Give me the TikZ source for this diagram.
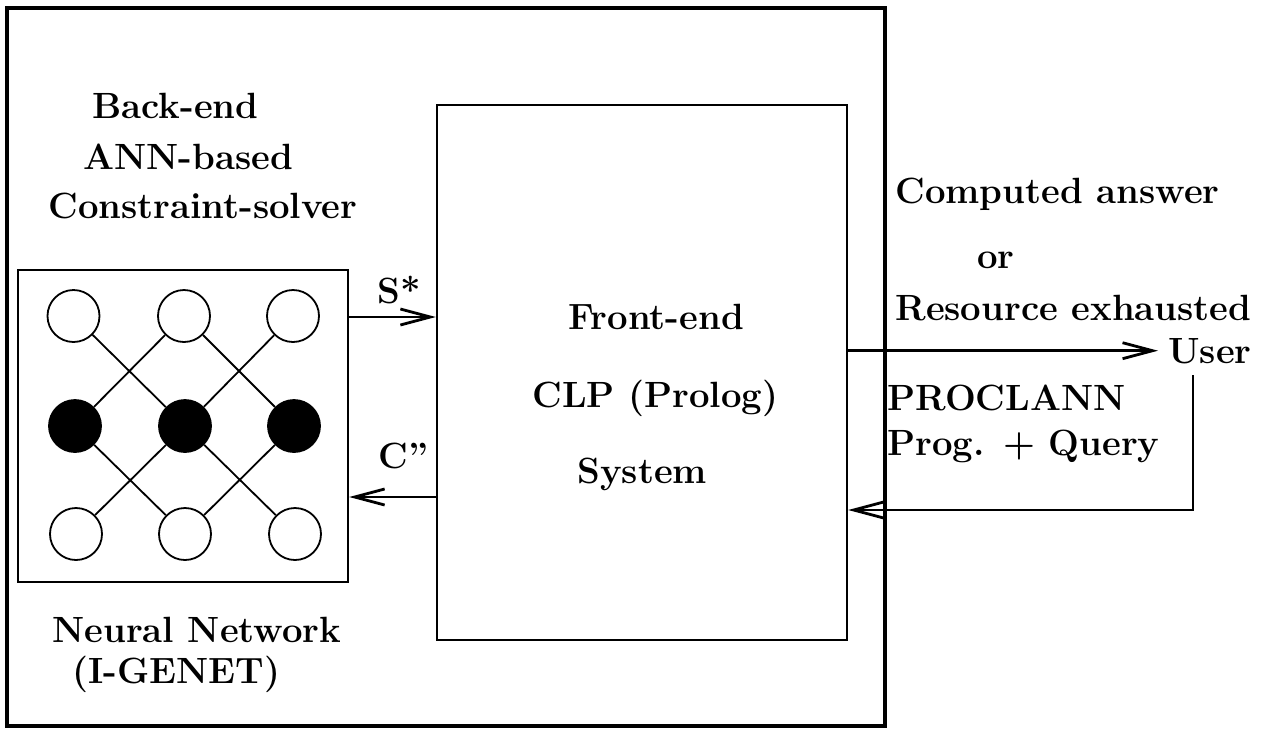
\documentclass[tikz,border=0pt]{standalone}
\usetikzlibrary{arrows.meta}
\begin{document}
\begin{tikzpicture}[x=0.5pt,y=-0.5pt,
  every node/.style={font=\fontsize{18.25pt}{22pt}\selectfont\bfseries, inner sep=0pt},
  lbl/.style={anchor=base west},
  outerbox/.style={draw, line width=1.6pt},
  blockbox/.style={draw, line width=1.2pt, rectangle},
  neuron/.style={circle, draw, line width=0.9pt, minimum size=26pt, inner sep=0pt},
  hidden/.style={neuron, fill=black},
  link/.style={line width=0.9pt},
  arr/.style={line width=1.4pt, -{Straight Barb[length=15pt,width=8pt,line width=1.4pt]}},
]
\useasboundingbox (0,0) rectangle (1265,729);
\draw[outerbox] (7,8) rectangle (885,726);

\node[blockbox, minimum width=205pt, minimum height=267.5pt] (fe) at (642,372.5) {};
\node[blockbox, minimum width=165pt, minimum height=156pt] (nn) at (183,426) {};

\node[neuron] (t1) at (73.5,316) {};
\node[neuron] (t2) at (184,316) {};
\node[neuron] (t3) at (293,316) {};
\node[hidden] (m1) at (75,426) {};
\node[hidden] (m2) at (185,426) {};
\node[hidden] (m3) at (294,426) {};
\node[neuron] (b1) at (76,534) {};
\node[neuron] (b2) at (185,534) {};
\node[neuron] (b3) at (295,534) {};

\draw[link] (t1) -- (m2);
\draw[link] (t2) -- (m1);
\draw[link] (t2) -- (m3);
\draw[link] (t3) -- (m2);
\draw[link] (m1) -- (b2);
\draw[link] (m2) -- (b1);
\draw[link] (m2) -- (b3);
\draw[link] (m3) -- (b2);

\coordinate (yS) at (0,317);
\coordinate (yC) at (0,497);
\coordinate (yR) at (0,510);
\coordinate (ret) at (1193,375);

\node[lbl, inner xsep=5pt] (user) at (1158,363) {User};

\draw[arr] (nn.east |- yS) -- (fe.west |- yS);
\draw[arr] (fe.west |- yC) -- (nn.east |- yC);
\draw[arr] (fe.east |- user.west) -- (user.west);
\draw[arr] (ret) |- (fe.east |- yR);

\node[lbl] (l1) at (92,118) {Back-end};
\node[lbl] (l2) at (83,169) {ANN-based};
\node[lbl] (l3) at (48,218) {Constraint-solver};
\node[lbl] (l4) at (52,642) {Neural Network};
\node[lbl] (l5) at (72,683) {(I-GENET)};
\node[lbl] (s) at (377,303) {S*};
\node[lbl] (c) at (378,468) {C''};
\node[lbl] (f1) at (568,329) {Front-end};
\node[lbl] (f2) at (532,407) {CLP (Prolog)};
\node[lbl] (f3) at (577,483) {System};
\node[lbl] (r1) at (895,203) {Computed answer};
\node[lbl] (r2) at (977,268) {or};
\node[lbl] (r3) at (895,320) {Resource exhausted};
\node[lbl] (p1) at (887,410) {PROCLANN};
\node[lbl] (p2) at (887,455) {Prog. + Query};
\end{tikzpicture}
\end{document}
